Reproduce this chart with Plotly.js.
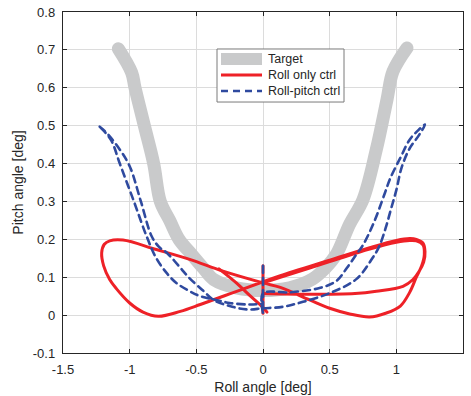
<!DOCTYPE html>
<html>
<head>
<meta charset="utf-8">
<script src="https://cdn.plot.ly/plotly-3.0.1.min.js"></script>
<style>html,body{margin:0;padding:0;background:#fff;}#chart{width:471px;height:396px;}</style>
</head>
<body>
<div id="chart"></div>
<script>
// Target trajectory (gray)
const targetRoll  = [-1.085,-0.985,-0.96,-0.89,-0.82,-0.77,-0.70,-0.63,-0.535,-0.45,-0.37,-0.2,0,0.2,0.37,0.47,0.55,0.65,0.75,0.85,0.93,0.975,1.08];
const targetPitch = [0.703,0.64,0.6,0.5,0.4,0.3,0.25,0.2,0.16,0.125,0.094,0.072,0.065,0.072,0.095,0.125,0.16,0.24,0.305,0.437,0.569,0.643,0.705];

// Roll only ctrl (red)
const rollOnlyRoll  = [0,0.35,0.69,0.85,1.05,1.125,1.17,1.205,1.215,1.2,1.15,1.1,1.0,0.8,0.5,0.13,0,-0.25,-0.47,-0.62,-0.785,-0.9,-1.0,-1.1,-1.15,-1.195,-1.21,-1.19,-1.15,-1.05,-0.8,-0.55,-0.3,0,0.13,0.35,0.5,0.65,0.8,0.92,1.03,1.1,1.15,1.19,1.21,1.2,1.15,1.1,1.0,0.8,0.5,0.13,0.0,
                       null,-0.33,-0.2,-0.1,0,0.03,
                       null,0,0];
const rollOnlyPitch = [0.057,0.055,0.057,0.063,0.076,0.094,0.115,0.14,0.168,0.19,0.2,0.202,0.197,0.178,0.145,0.104,0.088,0.056,0.028,0.01,-0.003,0.008,0.032,0.07,0.094,0.13,0.164,0.187,0.196,0.198,0.173,0.147,0.116,0.085,0.073,0.04,0.018,0.003,-0.005,0.005,0.024,0.06,0.1,0.13,0.16,0.185,0.196,0.197,0.192,0.174,0.141,0.1,0.085,
                       null,0.122,0.085,0.052,0.02,0.008,
                       null,0.13,0.005];

// Roll-pitch ctrl (blue dashed)
const rollPitchRoll  = [0,0,0,0.2,0.43,0.55,0.63,0.7,0.75,0.83,0.915,0.953,1.03,1.1,1.17,1.215,
                        1.17,1.1,1.04,1.0,0.96,0.92,0.87,0.82,0.7,0.5,0.3,0.15,0,
                        -0.12,-0.25,-0.37,-0.45,-0.55,-0.62,-0.72,-0.78,-0.835,-0.916,-1.0,-1.08,-1.16,-1.2,-1.235,
                        -1.19,-1.135,-1.074,-0.968,-0.873,-0.8,-0.72,-0.65,-0.55,-0.47,-0.35,-0.25,-0.1,0];
const rollPitchPitch = [0.13,0.005,0.057,0.06,0.072,0.09,0.125,0.16,0.185,0.243,0.323,0.36,0.415,0.463,0.49,0.503,
                        0.475,0.44,0.39,0.33,0.28,0.23,0.18,0.15,0.095,0.058,0.035,0.022,0.018,
                        0.015,0.024,0.04,0.065,0.097,0.125,0.164,0.18,0.208,0.3,0.393,0.44,0.476,0.49,0.5,
                        0.485,0.459,0.4,0.3,0.208,0.15,0.11,0.085,0.063,0.05,0.04,0.032,0.028,0.03];

// Tick labels
const xTickVals = [-1.5,-1,-0.5,0,0.5,1,1.5];
const xTickText = ['-1.5','-1','-0.5','0','0.5','1','1.5'];
const yTickVals = [-0.1,0,0.1,0.2,0.3,0.4,0.5,0.6,0.7,0.8];
const yTickText = ['-0.1','0','0.1','0.2','0.3','0.4','0.5','0.6','0.7','0.8'];

// Series names and styles (legend)
const seriesNames = ['Target','Roll only ctrl','Roll-pitch ctrl'];
const seriesColors = ['#c9cacb','#ee2127','#2f4a9f'];
const seriesWidths = [13, 3, 2.6];
const seriesDash = ['solid','solid','7px,5px'];

const FONT = 'Liberation Sans, Arial, Helvetica, sans-serif';
const AX = '#262626';

const traces = [
  {x: targetRoll, y: targetPitch, name: seriesNames[0], mode: 'lines',
   line: {color: seriesColors[0], width: seriesWidths[0], shape: 'spline'}},
  {x: rollOnlyRoll, y: rollOnlyPitch, name: seriesNames[1], mode: 'lines',
   line: {color: seriesColors[1], width: seriesWidths[1], shape: 'spline'}},
  {x: rollPitchRoll, y: rollPitchPitch, name: seriesNames[2], mode: 'lines',
   line: {color: seriesColors[2], width: seriesWidths[2], dash: seriesDash[2], shape: 'spline'}}
];

// Legend box (paper coords), drawn as shapes + annotations
const legX0 = 0.385, legX1 = 0.7025, legY0 = 0.736, legY1 = 0.8915;
const legLineX0 = 0.395, legLineX1 = 0.4975, legTextX = 0.5075;
const legRowY = [0.862, 0.8152, 0.7683];

const shapes = [{type: 'rect', xref: 'paper', yref: 'paper', x0: legX0, x1: legX1, y0: legY0, y1: legY1,
                 fillcolor: '#ffffff', line: {color: '#7a7a7a', width: 1}, layer: 'above'}];
const annotations = [];
seriesNames.forEach(function(n, i){
  shapes.push({type: 'line', xref: 'paper', yref: 'paper', x0: legLineX0, x1: legLineX1, y0: legRowY[i], y1: legRowY[i],
               line: {color: seriesColors[i], width: i === 0 ? 12 : seriesWidths[i], dash: seriesDash[i]}, layer: 'above'});
  annotations.push({xref: 'paper', yref: 'paper', x: legTextX, y: legRowY[i], xanchor: 'left', yanchor: 'middle',
                    text: n, showarrow: false, font: {family: FONT, size: 12.5, color: AX}});
});

const axisCommon = {
  showline: true, linecolor: AX, linewidth: 1.2, mirror: 'ticks',
  ticks: 'inside', ticklen: 4, tickcolor: AX, tickwidth: 1,
  showgrid: true, gridcolor: '#dcdcdc', gridwidth: 1, zeroline: false,
  tickfont: {family: FONT, size: 13, color: AX}
};

const layout = {
  width: 471, height: 396,
  margin: {l: 63, r: 8, t: 12, b: 43, pad: 0},
  paper_bgcolor: '#fff', plot_bgcolor: '#fff',
  font: {family: FONT, color: AX},
  showlegend: false,
  shapes: shapes,
  annotations: annotations,
  xaxis: Object.assign({}, axisCommon, {
    range: [-1.5, 1.5], tickvals: xTickVals, ticktext: xTickText, ticklabelstandoff: 4,
    title: {text: 'Roll angle [deg]', font: {family: FONT, size: 14, color: AX}, standoff: 6}
  }),
  yaxis: Object.assign({}, axisCommon, {
    range: [-0.1, 0.8], tickvals: yTickVals, ticktext: yTickText, ticklabelstandoff: 4,
    title: {text: 'Pitch angle [deg]', font: {family: FONT, size: 14, color: AX}, standoff: 5}
  })
};

Plotly.newPlot('chart', traces, layout, {displayModeBar: false, staticPlot: true}).then(function(){
  document.querySelectorAll('.scatterlayer .trace path.js-line').forEach(function(p){
    p.style.strokeLinecap = 'round';
  });
});
</script>
</body>
</html>
